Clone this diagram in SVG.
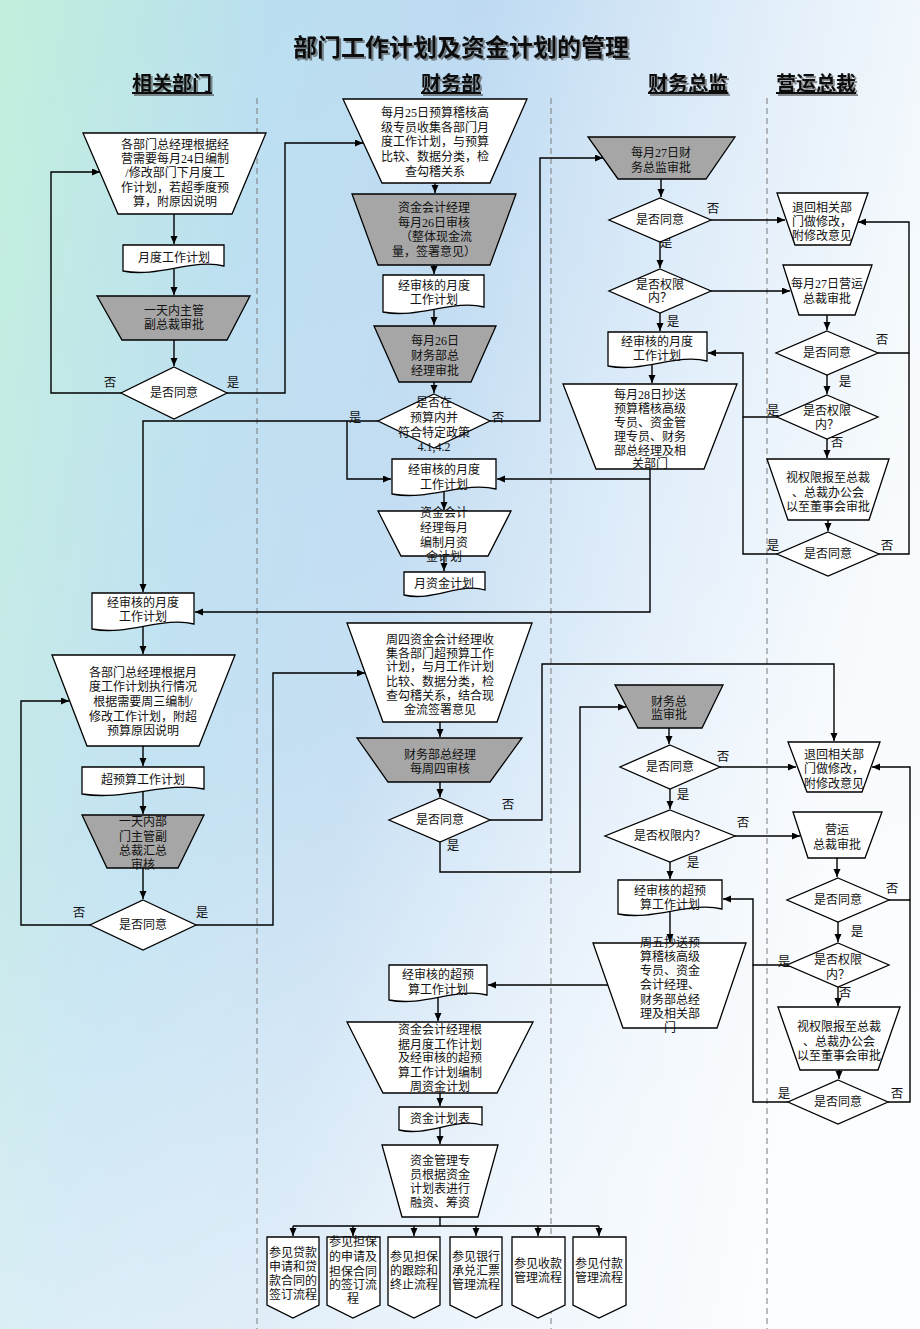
<svg xmlns="http://www.w3.org/2000/svg" width="920" height="1329" viewBox="0 0 920 1329">
<defs>
<linearGradient id="bg" x1="0" y1="0" x2="1" y2="0.25">
<stop offset="0" stop-color="#c2efdc"/>
<stop offset="0.28" stop-color="#b9def0"/>
<stop offset="0.5" stop-color="#bcd9f1"/>
<stop offset="0.75" stop-color="#dcebf9"/>
<stop offset="1" stop-color="#f6fafd"/>
</linearGradient>
<linearGradient id="fade" x1="0" y1="0" x2="0.3" y2="1">
<stop offset="0" stop-color="#ffffff" stop-opacity="0"/>
<stop offset="0.6" stop-color="#ffffff" stop-opacity="0.15"/>
<stop offset="1" stop-color="#ffffff" stop-opacity="0.55"/>
</linearGradient>
<filter id="sh" x="-5%" y="-20%" width="110%" height="150%">
<feDropShadow dx="2" dy="2" stdDeviation="0.6" flood-color="#444" flood-opacity="0.6"/>
</filter>
<marker id="ah" markerWidth="9" markerHeight="8" refX="8" refY="3.5" orient="auto" markerUnits="userSpaceOnUse">
<path d="M0,0 L8,3.5 L0,7 z" fill="#000"/>
</marker>
<style>
.s{fill:#fff;stroke:#000;stroke-width:1.3}
.g{fill:#a6a6a6;stroke:#000;stroke-width:1.3}
.t{font-family:"Liberation Serif","Noto Sans CJK SC",serif;font-size:12px;text-anchor:middle;dominant-baseline:central;fill:#111}
.lab{font-family:"Liberation Serif","Noto Sans CJK SC",serif;font-size:12.5px;text-anchor:middle;dominant-baseline:central;fill:#111}
.c path{fill:none;stroke:#000;stroke-width:1.4}
.a{marker-end:url(#ah)}
.d{stroke:#7a7a7a;stroke-width:1;stroke-dasharray:6 4}
.hd{font-family:"Noto Sans CJK SC","Liberation Sans",sans-serif;font-size:20px;font-weight:bold;text-anchor:middle;text-decoration:underline;fill:#111}
.ti{font-family:"Noto Sans CJK SC","Liberation Sans",sans-serif;font-size:24px;font-weight:bold;text-anchor:middle;fill:#111}
</style>
</defs>
<rect width="920" height="1329" fill="url(#bg)"/>
<rect width="920" height="1329" fill="url(#fade)"/>

<g id="title" filter="url(#sh)">
<text class="ti" x="461" y="56">部门工作计划及资金计划的管理</text>
<text class="hd" x="172" y="91">相关部门</text>
<text class="hd" x="451" y="91">财务部</text>
<text class="hd" x="688" y="91">财务总监</text>
<text class="hd" x="816" y="91">营运总裁</text>
</g>

<g id="lanes">
<line class="d" x1="257" y1="98" x2="257" y2="1329"/>
<line class="d" x1="551" y1="98" x2="551" y2="1329"/>
<line class="d" x1="767" y1="98" x2="767" y2="1329"/>
</g>

<g class="c" id="connectors">
<path class="a" d="M174,214 V244"/>
<path class="a" d="M174,269 V295"/>
<path class="a" d="M174,340 V366"/>
<path class="a" d="M121,393 H51 V172 H100"/>
<path class="a" d="M227,393 H285 V143 H363"/>
<path class="a" d="M435,183 V193"/>
<path class="a" d="M434,265 V274"/>
<path class="a" d="M434,310 V325"/>
<path class="a" d="M434,382 V393"/>
<path class="a" d="M490,421 H540 V158 H603"/>
<path class="a" d="M378,421 H143 V592"/>
<path class="a" d="M347,421 V479 H391"/>
<path class="a" d="M444,492 V510"/>
<path class="a" d="M444,556 V571"/>
<path class="a" d="M650,469 V612 H195"/>
<path class="a" d="M650,479 H497"/>
<path class="a" d="M143,627 V654"/>
<path class="a" d="M143,746 V766"/>
<path class="a" d="M143,792 V814"/>
<path class="a" d="M143,868 V899"/>
<path class="a" d="M90,925 H21 V701 H69"/>
<path class="a" d="M196,925 H273 V673 H365"/>
<path class="a" d="M440,722 V737"/>
<path class="a" d="M440,782 V797"/>
<path class="a" d="M490,820 H542 V664 H834 V741"/>
<path class="a" d="M440,842 V872 H580 V707 H626"/>
<path class="a" d="M661,179 V197"/>
<path class="a" d="M711,220 H785"/>
<path class="a" d="M660,242 V268"/>
<path class="a" d="M711,291 H790"/>
<path class="a" d="M660,313 V331"/>
<path class="a" d="M652,364 V383"/>
<path class="a" d="M827,315 V330"/>
<path class="a" d="M878,353 H909 V222 H858"/>
<path class="a" d="M827,375 V394"/>
<path class="a" d="M827,439 V458"/>
<path class="a" d="M777,417 H743 V353 H708"/>
<path class="a" d="M828,520 V531"/>
<path d="M777,554 H743 V417"/>
<path d="M879,554 H909 V353"/>
<path class="a" d="M669,728 V744"/>
<path class="a" d="M720,767 H796"/>
<path class="a" d="M670,789 V809"/>
<path class="a" d="M735,836 H800"/>
<path class="a" d="M670,862 V879"/>
<path class="a" d="M670,912 V942"/>
<path class="a" d="M608,985 H488"/>
<path class="a" d="M837,858 V877"/>
<path class="a" d="M889,900 H910 V767 H872"/>
<path class="a" d="M838,922 V942"/>
<path class="a" d="M838,987 V1006"/>
<path class="a" d="M787,965 H753 V899 H723"/>
<path class="a" d="M839,1070 V1079"/>
<path d="M788,1102 H753 V965"/>
<path d="M888,1102 H910 V900"/>
<path class="a" d="M438,998 V1021"/>
<path class="a" d="M440,1093 V1106"/>
<path class="a" d="M440,1128 V1144"/>
<path d="M440,1217 V1226 M293,1226 H599"/>
<path class="a" d="M293,1226 V1236"/>
<path class="a" d="M353,1226 V1236"/>
<path class="a" d="M414,1226 V1236"/>
<path class="a" d="M476,1226 V1236"/>
<path class="a" d="M538,1226 V1236"/>
<path class="a" d="M599,1226 V1236"/>
</g>

<g id="labels">
<text class="lab" x="110" y="383">否</text>
<text class="lab" x="233" y="383">是</text>
<text class="lab" x="355" y="418">是</text>
<text class="lab" x="498" y="418">否</text>
<text class="lab" x="79" y="913">否</text>
<text class="lab" x="202" y="913">是</text>
<text class="lab" x="508" y="805">否</text>
<text class="lab" x="453" y="846">是</text>
<text class="lab" x="713" y="209">否</text>
<text class="lab" x="666" y="243">是</text>
<text class="lab" x="673" y="322">是</text>
<text class="lab" x="882" y="340">否</text>
<text class="lab" x="845" y="382">是</text>
<text class="lab" x="773" y="411">是</text>
<text class="lab" x="837" y="443">否</text>
<text class="lab" x="773" y="546">是</text>
<text class="lab" x="887" y="546">否</text>
<text class="lab" x="723" y="757">否</text>
<text class="lab" x="683" y="795">是</text>
<text class="lab" x="743" y="823">否</text>
<text class="lab" x="693" y="863">是</text>
<text class="lab" x="892" y="889">否</text>
<text class="lab" x="857" y="932">是</text>
<text class="lab" x="784" y="962">是</text>
<text class="lab" x="845" y="993">否</text>
<text class="lab" x="784" y="1094">是</text>
<text class="lab" x="897" y="1094">否</text>
</g>

<g id="n1"><polygon class="s" points="83,133 266,133 232,214 118,214"/>
<text class="t" x="175" y="145">各部门总经理根据经</text><text class="t" x="175" y="159">营需要每月24日编制</text><text class="t" x="175" y="173">/修改部门下月度工</text><text class="t" x="175" y="188">作计划，若超季度预</text><text class="t" x="175" y="202">算，附原因说明</text></g>
<g id="n2"><path class="s" d="M123,245 H224 V266 C193.7,258 158.4,278 123,271 Z"/><text class="t" x="174" y="258">月度工作计划</text></g>
<g id="n3"><polygon class="g" points="97,296 250,296 227,340 122,340"/><text class="t" x="174" y="311">一天内主管</text><text class="t" x="174" y="325">副总裁审批</text></g>
<g id="n4"><polygon class="s" points="174,367 227,393 174,419 121,393"/><text class="t" x="174" y="393">是否同意</text></g>

<g id="n5"><polygon class="s" points="343,99 527,99 490,183 382,183"/>
<text class="t" x="435" y="113">每月25日预算稽核高</text><text class="t" x="435" y="128">级专员收集各部门月</text><text class="t" x="435" y="142">度工作计划，与预算</text><text class="t" x="435" y="157">比较、数据分类，检</text><text class="t" x="435" y="172">查勾稽关系</text></g>
<g id="n6"><polygon class="g" points="352,194 516,194 490,265 378,265"/>
<text class="t" x="434" y="208">资金会计经理</text><text class="t" x="434" y="223">每月26日审核</text><text class="t" x="436" y="237">（整体现金流</text><text class="t" x="434" y="252">量，签署意见）</text></g>
<g id="n7"><path class="s" d="M383,275 H484 V307 C453.7,299 418.4,319 383,312 Z"/><text class="t" x="434" y="286">经审核的月度</text><text class="t" x="434" y="300">工作计划</text></g>
<g id="n8"><polygon class="g" points="374,326 496,326 471,382 399,382"/>
<text class="t" x="435" y="341">每月26日</text><text class="t" x="435" y="356">财务部总</text><text class="t" x="435" y="371">经理审批</text></g>
<g id="n9"><polygon class="s" points="434,394 490,421 434,448 378,421"/>
<text class="t" x="434" y="403">是否在</text><text class="t" x="434" y="418">预算内并</text><text class="t" x="434" y="433">符合特定政策</text><text class="t" x="434" y="447">4.1,4.2</text></g>
<g id="n10"><path class="s" d="M392,459 H496 V489 C464.8,481 428.4,501 392,494 Z"/><text class="t" x="444" y="470">经审核的月度</text><text class="t" x="444" y="485">工作计划</text></g>
<g id="n11"><polygon class="s" points="378,511 511,511 488,556 401,556"/>
<text class="t" x="444" y="513">资金会计</text><text class="t" x="444" y="528">经理每月</text><text class="t" x="444" y="543">编制月资</text><text class="t" x="444" y="557">金计划</text></g>
<g id="n12"><path class="s" d="M404,572 H485 V590 C460.7,582 432.4,602 404,595 Z"/><text class="t" x="444" y="584">月资金计划</text></g>

<g id="n13"><path class="s" d="M92,593 H194 V624 C163.4,616 127.7,636 92,629 Z"/><text class="t" x="143" y="603">经审核的月度</text><text class="t" x="143" y="617">工作计划</text></g>
<g id="n14"><polygon class="s" points="52,655 235,655 199,746 87,746"/>
<text class="t" x="143" y="673">各部门总经理根据月</text><text class="t" x="143" y="687">度工作计划执行情况</text><text class="t" x="143" y="702">根据需要周三编制/</text><text class="t" x="143" y="717">修改工作计划，附超</text><text class="t" x="143" y="731">预算原因说明</text></g>
<g id="n15"><path class="s" d="M82,767 H204 V789 C167.4,781 124.7,801 82,794 Z"/><text class="t" x="143" y="780">超预算工作计划</text></g>
<g id="n16"><polygon class="g" points="82,815 204,815 178,868 107,868"/>
<text class="t" x="143" y="822">一天内部</text><text class="t" x="143" y="837">门主管副</text><text class="t" x="143" y="851">总裁汇总</text><text class="t" x="143" y="865">审核</text></g>
<g id="n17"><polygon class="s" points="143,900 196,925 143,950 90,925"/><text class="t" x="143" y="925">是否同意</text></g>

<g id="n18"><polygon class="s" points="347,623 532,623 497,722 383,722"/>
<text class="t" x="440" y="640">周四资金会计经理收</text><text class="t" x="440" y="654">集各部门超预算工作</text><text class="t" x="440" y="667">计划，与月工作计划</text><text class="t" x="440" y="682">比较、数据分类，检</text><text class="t" x="440" y="696">查勾稽关系，结合现</text><text class="t" x="440" y="710">金流签署意见</text></g>
<g id="n19"><polygon class="g" points="357,738 522,738 490,782 388,782"/><text class="t" x="440" y="755">财务部总经理</text><text class="t" x="440" y="769">每周四审核</text></g>
<g id="n20"><polygon class="s" points="440,798 490,820 440,842 389,820"/><text class="t" x="440" y="820">是否同意</text></g>

<g id="n21"><polygon class="g" points="588,137 735,137 706,179 618,179"/><text class="t" x="661" y="153">每月27日财</text><text class="t" x="661" y="168">务总监审批</text></g>
<g id="n22"><polygon class="s" points="660,198 711,220 660,242 609,220"/><text class="t" x="660" y="220">是否同意</text></g>
<g id="n23"><polygon class="s" points="660,269 711,291 660,313 609,291"/><text class="t" x="660" y="285">是否权限</text><text class="t" x="660" y="298">内？</text></g>
<g id="n24"><path class="s" d="M608,332 H707 V361 C677.3,353 642.7,373 608,366 Z"/><text class="t" x="657" y="342">经审核的月度</text><text class="t" x="657" y="356">工作计划</text></g>
<g id="n25"><polygon class="s" points="563,384 737,384 704,469 596,469"/>
<text class="t" x="650" y="395">每月28日抄送</text><text class="t" x="650" y="409">预算稽核高级</text><text class="t" x="650" y="423">专员、资金管</text><text class="t" x="650" y="437">理专员、财务</text><text class="t" x="650" y="451">部总经理及相</text><text class="t" x="650" y="464">关部门</text></g>

<g id="n26"><polygon class="s" points="777,193 868,193 850,245 795,245"/><text class="t" x="822" y="208">退回相关部</text><text class="t" x="822" y="222">门做修改，</text><text class="t" x="822" y="236">附修改意见</text></g>
<g id="n27"><polygon class="s" points="783,265 872,265 855,315 799,315"/><text class="t" x="827" y="284">每月27日营运</text><text class="t" x="827" y="299">总裁审批</text></g>
<g id="n28"><polygon class="s" points="827,331 878,353 827,375 776,353"/><text class="t" x="827" y="353">是否同意</text></g>
<g id="n29"><polygon class="s" points="827,395 878,417 827,439 777,417"/><text class="t" x="827" y="411">是否权限</text><text class="t" x="827" y="425">内？</text></g>
<g id="n30"><polygon class="s" points="767,459 889,459 869,520 788,520"/><text class="t" x="828" y="478">视权限报至总裁</text><text class="t" x="828" y="493">、总裁办公会</text><text class="t" x="828" y="507">以至董事会审批</text></g>
<g id="n31"><polygon class="s" points="828,532 879,554 828,576 777,554"/><text class="t" x="828" y="554">是否同意</text></g>

<g id="n32"><polygon class="g" points="615,685 723,685 702,728 638,728"/><text class="t" x="669" y="702">财务总</text><text class="t" x="669" y="715">监审批</text></g>
<g id="n33"><polygon class="s" points="670,745 720,767 670,789 620,767"/><text class="t" x="670" y="767">是否同意</text></g>
<g id="n34"><polygon class="s" points="670,810 735,836 670,862 605,836"/><text class="t" x="670" y="836">是否权限内？</text></g>
<g id="n35"><path class="s" d="M618,880 H722 V909 C690.8,901 654.4,921 618,914 Z"/><text class="t" x="670" y="891">经审核的超预</text><text class="t" x="670" y="905">算工作计划</text></g>
<g id="n36"><polygon class="s" points="593,943 746,943 717,1028 623,1028"/>
<text class="t" x="670" y="943">周五抄送预</text><text class="t" x="670" y="957">算稽核高级</text><text class="t" x="670" y="971">专员、资金</text><text class="t" x="670" y="985">会计经理、</text><text class="t" x="670" y="1000">财务部总经</text><text class="t" x="670" y="1014">理及相关部</text><text class="t" x="670" y="1028">门</text></g>

<g id="n37"><polygon class="s" points="788,742 880,742 862,792 807,792"/><text class="t" x="834" y="755">退回相关部</text><text class="t" x="834" y="769">门做修改，</text><text class="t" x="834" y="784">附修改意见</text></g>
<g id="n38"><polygon class="s" points="793,812 882,812 865,858 808,858"/><text class="t" x="837" y="830">营运</text><text class="t" x="837" y="845">总裁审批</text></g>
<g id="n39"><polygon class="s" points="838,878 889,900 838,922 787,900"/><text class="t" x="838" y="900">是否同意</text></g>
<g id="n40"><polygon class="s" points="838,943 889,965 838,987 787,965"/><text class="t" x="838" y="960">是否权限</text><text class="t" x="838" y="975">内？</text></g>
<g id="n41"><polygon class="s" points="778,1007 900,1007 878,1070 800,1070"/><text class="t" x="839" y="1027">视权限报至总裁</text><text class="t" x="839" y="1042">、总裁办公会</text><text class="t" x="839" y="1056">以至董事会审批</text></g>
<g id="n42"><polygon class="s" points="838,1080 888,1102 838,1124 788,1102"/><text class="t" x="838" y="1102">是否同意</text></g>

<g id="n43"><path class="s" d="M389,965 H487 V995 C457.6,987 423.3,1007 389,1000 Z"/><text class="t" x="438" y="975">经审核的超预</text><text class="t" x="438" y="990">算工作计划</text></g>
<g id="n44"><polygon class="s" points="347,1022 533,1022 497,1093 383,1093"/>
<text class="t" x="440" y="1030">资金会计经理根</text><text class="t" x="440" y="1045">据月度工作计划</text><text class="t" x="440" y="1058">及经审核的超预</text><text class="t" x="440" y="1073">算工作计划编制</text><text class="t" x="440" y="1087">周资金计划</text></g>
<g id="n45"><path class="s" d="M399,1107 H482 V1125 C457.1,1117 428,1137 399,1130 Z"/><text class="t" x="440" y="1119">资金计划表</text></g>
<g id="n46"><polygon class="s" points="382,1145 498,1145 478,1217 402,1217"/>
<text class="t" x="440" y="1161">资金管理专</text><text class="t" x="440" y="1175">员根据资金</text><text class="t" x="440" y="1189">计划表进行</text><text class="t" x="440" y="1203">融资、筹资</text></g>

<g id="p1"><path class="s" d="M267,1237 H319 V1305 L293,1318 L267,1305 Z"/><text class="t" x="293" y="1253">参见贷款</text><text class="t" x="293" y="1267">申请和贷</text><text class="t" x="293" y="1281">款合同的</text><text class="t" x="293" y="1295">签订流程</text></g>
<g id="p2"><path class="s" d="M327,1237 H380 V1305 L353,1318 L327,1305 Z"/><text class="t" x="353" y="1242">参见担保</text><text class="t" x="353" y="1257">的申请及</text><text class="t" x="353" y="1272">担保合同</text><text class="t" x="353" y="1285">的签订流</text><text class="t" x="353" y="1299">程</text></g>
<g id="p3"><path class="s" d="M388,1237 H440 V1305 L414,1318 L388,1305 Z"/><text class="t" x="414" y="1257">参见担保</text><text class="t" x="414" y="1271">的跟踪和</text><text class="t" x="414" y="1285">终止流程</text></g>
<g id="p4"><path class="s" d="M450,1237 H502 V1305 L476,1318 L450,1305 Z"/><text class="t" x="476" y="1257">参见银行</text><text class="t" x="476" y="1271">承兑汇票</text><text class="t" x="476" y="1285">管理流程</text></g>
<g id="p5"><path class="s" d="M512,1237 H565 V1305 L538,1318 L512,1305 Z"/><text class="t" x="538" y="1264">参见收款</text><text class="t" x="538" y="1278">管理流程</text></g>
<g id="p6"><path class="s" d="M573,1237 H626 V1305 L599,1318 L573,1305 Z"/><text class="t" x="599" y="1264">参见付款</text><text class="t" x="599" y="1278">管理流程</text></g>
</svg>
